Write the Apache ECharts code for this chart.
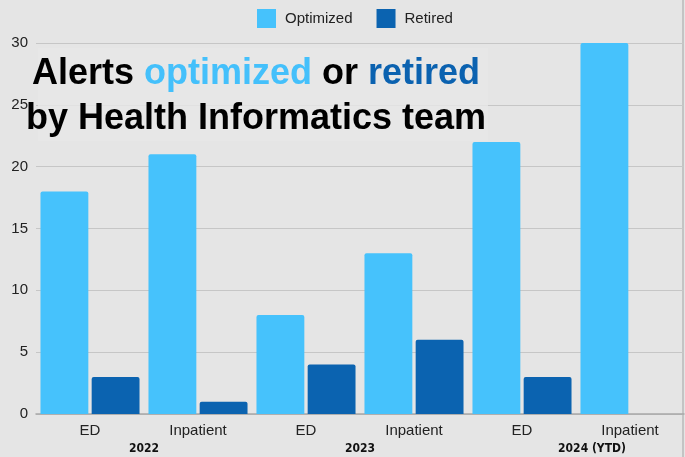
<!DOCTYPE html>
<html>
<head>
<meta charset="utf-8">
<script src="https://cdn.jsdelivr.net/npm/echarts@6/dist/echarts.min.js"></script>
<style>
  html, body { margin: 0; padding: 0; background: #e5e5e5; }
  #chart { width: 685px; height: 457px; }
</style>
</head>
<body>
<div id="chart"></div>
<script>
// 数据
var categories = ['ED', 'Inpatient', 'ED', 'Inpatient', 'ED', 'Inpatient'];
var years = ['2022', '2023', '2024 (YTD)'];
var optimized = [18, 21, 8, 13, 22, 30];
var retired = [3, 1, 4, 6, 3, 0];
var yTicks = [0, 5, 10, 15, 20, 25, 30];

var lightBlue = '#46c2fc';
var darkBlue = '#0b63b0';
var font = 'Liberation Sans, Arial, sans-serif';
var narrow = 'DejaVu Sans Condensed, Liberation Sans Narrow, sans-serif';

var chart = echarts.init(document.getElementById('chart'));

var option = {
  backgroundColor: '#e5e5e5',
  animation: false,
  legend: {
    top: 4,
    left: 252,
    itemWidth: 19,
    itemHeight: 19,
    itemGap: 24,
    icon: 'rect',
    textStyle: { fontFamily: font, fontSize: 15, color: '#222', padding: [0, 0, 0, 4] },
    data: ['Optimized', 'Retired']
  },
  grid: { left: 36, right: 1, top: 43, bottom: 43 },
  xAxis: [
    {
      type: 'category',
      data: categories,
      axisTick: { show: false },
      axisLine: { lineStyle: { color: '#a8a8a8', width: 1.5 } },
      axisLabel: { fontFamily: font, fontSize: 15, color: '#222', margin: 9 }
    },
    {
      type: 'category',
      data: years,
      position: 'bottom',
      axisTick: { show: false },
      axisLine: { show: false },
      axisLabel: {
        margin: 29,
        formatter: function (v, i) {
          return i === 2 ? '{s|' + v + '}' : '{y|' + v + '}';
        },
        rich: {
          y: { fontFamily: narrow, fontWeight: 'bold', fontSize: 12, color: '#111' },
          s: { fontFamily: narrow, fontWeight: 'bold', fontSize: 12, color: '#111', padding: [0, 0, 0, 32] }
        }
      }
    }
  ],
  yAxis: {
    type: 'value',
    min: yTicks[0],
    max: yTicks[yTicks.length - 1],
    interval: 5,
    axisLine: { show: false },
    axisTick: { show: false },
    splitLine: { lineStyle: { color: '#c6c6c6', width: 1 } },
    axisLabel: { fontFamily: font, fontSize: 15, color: '#222', margin: 8 }
  },
  series: [
    {
      name: 'Optimized',
      type: 'bar',
      data: optimized,
      barGap: '7%',
      barCategoryGap: '8.3%',
      itemStyle: { color: lightBlue, borderRadius: [2, 2, 0, 0] }
    },
    {
      name: 'Retired',
      type: 'bar',
      data: retired,
      itemStyle: { color: darkBlue, borderRadius: [2, 2, 0, 0] }
    }
  ],
  graphic: [
    {
      // 标题背后的浅色底框
      type: 'rect',
      z: 1,
      shape: { x: 38, y: 48, width: 450, height: 93 },
      style: { fill: 'rgba(231,231,231,0.8)' }
    },
    {
      type: 'text',
      x: 256,
      y: 52,
      z: 1,
      style: {
        text: '{b|Alerts }{o|optimized}{b| or }{r|retired}\n{b|by Health Informatics team}',
        align: 'center',
        verticalAlign: 'top',
        rich: {
          b: { fontFamily: font, fontWeight: 'bold', fontSize: 36, lineHeight: 45, fill: '#000', align: 'center' },
          o: { fontFamily: font, fontWeight: 'bold', fontSize: 36, lineHeight: 45, fill: '#44c0fb', align: 'center' },
          r: { fontFamily: font, fontWeight: 'bold', fontSize: 36, lineHeight: 45, fill: '#0b62b0', align: 'center' }
        }
      }
    },
    {
      type: 'rect',
      shape: { x: 682, y: 0, width: 2, height: 457 },
      style: { fill: '#c4c4c4' }
    }
  ]
};

chart.setOption(option);
window.onresize = function () {
  chart.resize();
};
</script>
</body>
</html>
